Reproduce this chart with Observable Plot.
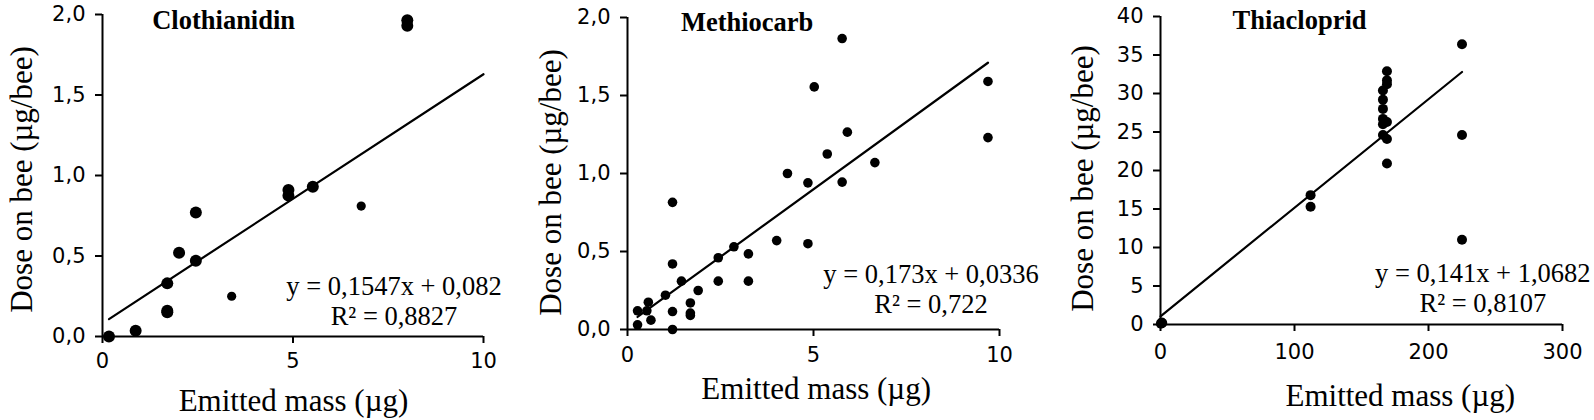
<!DOCTYPE html>
<html><head><meta charset="utf-8">
<script src="https://cdn.jsdelivr.net/npm/d3@7"></script>
<script src="https://cdn.jsdelivr.net/npm/@observablehq/plot@0.6"></script>
<style>
html,body{margin:0;padding:0;background:#fff;}
#wrap{position:relative;width:1594px;height:420px;overflow:hidden;background:#fff;}
.panel{position:absolute;top:0;}
</style></head><body><div id="wrap"></div>
<script>
// ---------- DATA ----------
const panelNames = ["Clothianidin", "Methiocarb", "Thiacloprid"];
const xAxisTitle = "Emitted mass (µg)";
const yAxisTitle = "Dose on bee (µg/bee)";

// Clothianidin (two marker series)
const clothianidinX = [0.17, 0.87, 1.70, 1.70, 1.70, 2.01, 2.45, 2.45, 4.88, 4.88, 5.52, 8.0, 8.0];
const clothianidinY = [0.0, 0.035, 0.33, 0.15, 0.16, 0.52, 0.77, 0.47, 0.91, 0.875, 0.93, 1.965, 1.93];
const clothianidinBX = [3.39, 6.79];
const clothianidinBY = [0.25, 0.81];

// Methiocarb
const methiocarbX = [0.27, 0.27, 0.56, 0.52, 0.63, 1.02, 1.21, 1.21, 1.21, 1.21, 1.45, 1.69, 1.69, 1.69, 1.90, 2.44, 2.44, 2.86, 3.25, 3.25, 4.01, 4.30, 4.85, 4.85, 5.02, 5.37, 5.77, 5.77, 5.91, 6.65, 9.69, 9.69];
const methiocarbY = [0.12, 0.03, 0.175, 0.12, 0.06, 0.22, 0.815, 0.42, 0.115, 0.0, 0.31, 0.17, 0.105, 0.09, 0.25, 0.46, 0.31, 0.53, 0.485, 0.31, 0.57, 1.0, 0.94, 0.55, 1.555, 1.125, 1.865, 0.945, 1.265, 1.07, 1.59, 1.23];

// Thiacloprid
const thiaclopridX = [0.3, 0.8, 1.3, 112, 112, 166, 166, 166, 166, 166, 166, 169, 169, 169, 169, 169, 169, 225, 225, 225];
const thiaclopridY = [0.1, 0.25, 0.2, 16.8, 15.3, 30.4, 29.2, 28.0, 26.7, 26.0, 24.6, 32.9, 31.7, 31.2, 26.3, 24.1, 20.9, 36.4, 24.6, 11.0];

// Trend lines (Excel linear fits)
const trendSlope = [0.1547, 0.173, 0.141];
const trendIntercept = [0.082, 0.0336, 1.0682];
const trendR2 = [0.8827, 0.722, 0.8107];
const trendFrom = [0.17, 0.27, 0];
const trendTo = [10, 9.69, 225];

// Axes
const xDomains = [[0, 10], [0, 10], [0, 300]];
const yDomains = [[0, 2], [0, 2], [0, 40]];
const xTicks = [[0, 5, 10], [0, 5, 10], [0, 100, 200, 300]];
const yTicks = [[0, 0.5, 1, 1.5, 2], [0, 0.5, 1, 1.5, 2], [0, 5, 10, 15, 20, 25, 30, 35, 40]];
const yDecimals = [1, 1, 0];

// ---------- LAYOUT / STYLE ----------
const layout = [
  {left: 0, width: 530, ml: 102, mr: 47, mt: 14, mb: 84, r: 6, rB: 4.6, xPad: 10,
   title: [151.7, 28.3], eq: [393.5, 324], xlab: [293, 410], ylab: [31.5, 179]},
  {left: 530, width: 530, ml: 97, mr: 61, mt: 17, mb: 91, r: 4.8, rB: 4.8, xPad: 11,
   title: [150.4, 30.7], eq: [400.5, 312], xlab: [285.7, 398], ylab: [30.4, 182]},
  {left: 1060, width: 534, ml: 100, mr: 32, mt: 16, mb: 96, r: 5, rB: 5, xPad: 13,
   title: [172, 28.3], eq: [422.3, 311], xlab: [339.8, 405], ylab: [32, 178]}
];
const serif = "Liberation Serif, Times New Roman, serif";
const sans = "DejaVu Sans, sans-serif";

const comma = v => String(v).replace(".", ",");
const zip = (xs, ys) => xs.map((x, i) => ({x, y: ys[i]}));

const seriesA = [zip(clothianidinX, clothianidinY), zip(methiocarbX, methiocarbY), zip(thiaclopridX, thiaclopridY)];
const seriesB = [zip(clothianidinBX, clothianidinBY), [], []];

const wrap = document.getElementById("wrap");

panelNames.forEach((name, i) => {
  const L = layout[i];
  const trend = [trendFrom[i], trendTo[i]].map(x => ({x, y: trendSlope[i] * x + trendIntercept[i]}));
  const eqText = `y = ${comma(trendSlope[i])}x + ${comma(trendIntercept[i])}\nR² = ${comma(trendR2[i])}`;
  const fmtY = d => yDecimals[i] ? d.toFixed(yDecimals[i]).replace(".", ",") : String(d);
  const at = (p) => ({frameAnchor: "top-left", dx: p[0] - L.ml, dy: p[1] - L.mt});

  const chart = Plot.plot({
    width: L.width,
    height: 420,
    marginLeft: L.ml, marginRight: L.mr, marginTop: L.mt, marginBottom: L.mb,
    style: {background: "white", color: "black", overflow: "visible"},
    x: {domain: xDomains[i]},
    y: {domain: yDomains[i]},
    marks: [
      Plot.axisY(yTicks[i], {tickSize: 7, tickPadding: 10, tickFormat: fmtY, fontSize: 21, fontFamily: sans, strokeWidth: 2, stroke: "black", fill: "black", label: null}),
      Plot.axisX(xTicks[i], {tickSize: 7, tickPadding: L.xPad, tickFormat: d => String(d), fontSize: 21, fontFamily: sans, strokeWidth: 2, stroke: "black", fill: "black", label: null}),
      Plot.ruleX([xDomains[i][0]], {stroke: "black", strokeWidth: 2}),
      Plot.ruleY([yDomains[i][0]], {stroke: "black", strokeWidth: 2}),
      Plot.line(trend, {x: "x", y: "y", stroke: "black", strokeWidth: 2.2}),
      Plot.dot(seriesA[i], {x: "x", y: "y", r: L.r, fill: "black", stroke: "none"}),
      Plot.dot(seriesB[i], {x: "x", y: "y", r: L.rB, fill: "black", stroke: "none"}),
      Plot.text([name], {text: d => d, ...at(L.title), textAnchor: "start", lineAnchor: "bottom", fontFamily: serif, fontWeight: "bold", fontSize: 26.5, fill: "black"}),
      Plot.text([eqText], {text: d => d, ...at(L.eq), textAnchor: "middle", lineAnchor: "bottom", lineHeight: 1.1, fontFamily: serif, fontSize: 26.5, fill: "black"}),
      Plot.text([xAxisTitle], {text: d => d, ...at(L.xlab), textAnchor: "middle", lineAnchor: "bottom", fontFamily: serif, fontSize: 31, fill: "black"}),
      Plot.text([yAxisTitle], {text: d => d, ...at(L.ylab), rotate: -90, textAnchor: "middle", lineAnchor: "bottom", fontFamily: serif, fontSize: 31, fill: "black"})
    ]
  });
  const div = document.createElement("div");
  div.className = "panel";
  div.style.left = L.left + "px";
  div.appendChild(chart);
  wrap.appendChild(div);
});
</script></body></html>
